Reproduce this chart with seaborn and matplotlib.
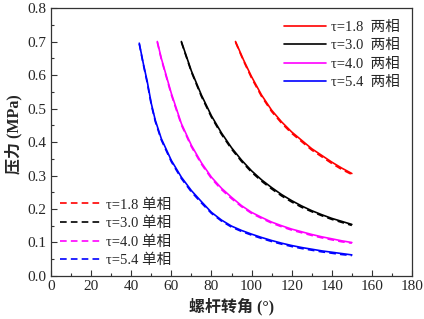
import matplotlib
matplotlib.use('Agg')
import matplotlib.pyplot as plt
import pandas as pd
import seaborn as sns
from matplotlib.ticker import MultipleLocator

# screw rotation angle (deg) and pressure (MPa)
ANGLE_18 = [92, 96, 100, 105, 110, 115, 120, 125, 130, 135, 140, 145, 150]
TWO_18 = [0.700, 0.645, 0.595, 0.540, 0.495, 0.460, 0.430, 0.405, 0.380, 0.360, 0.340, 0.322, 0.306]
ONE_18 = [0.698, 0.642, 0.591, 0.536, 0.491, 0.456, 0.426, 0.401, 0.376, 0.356, 0.336, 0.318, 0.303]

ANGLE_30 = [65, 70, 75, 80, 85, 90, 95, 100, 105, 110, 115, 120, 125, 130, 135, 140, 145, 150]
TWO_30 = [0.700, 0.612, 0.540, 0.478, 0.427, 0.383, 0.346, 0.314, 0.287, 0.264, 0.243, 0.225,
          0.209, 0.195, 0.183, 0.172, 0.163, 0.154]
ONE_30 = [0.698, 0.609, 0.536, 0.474, 0.423, 0.379, 0.342, 0.310, 0.283, 0.260, 0.239, 0.221,
          0.205, 0.192, 0.180, 0.169, 0.160, 0.151]

ANGLE_40 = [53, 55, 60, 65, 70, 75, 80, 85, 90, 95, 100, 105, 110, 115, 120, 125, 130, 135, 140, 145, 150]
TWO_40 = [0.700, 0.650, 0.545, 0.455, 0.390, 0.338, 0.295, 0.262, 0.235, 0.210, 0.190, 0.175,
          0.161, 0.150, 0.140, 0.132, 0.124, 0.117, 0.111, 0.105, 0.100]
ONE_40 = [0.698, 0.647, 0.541, 0.451, 0.386, 0.334, 0.291, 0.258, 0.231, 0.207, 0.187, 0.172,
          0.158, 0.147, 0.137, 0.129, 0.121, 0.114, 0.108, 0.102, 0.098]

ANGLE_54 = [44, 46, 48, 50, 52, 55, 60, 65, 70, 75, 80, 85, 90, 95, 100, 105, 110, 115, 120,
            125, 130, 135, 140, 145, 150]
TWO_54 = [0.695, 0.635, 0.580, 0.515, 0.465, 0.410, 0.345, 0.295, 0.255, 0.222, 0.190, 0.167,
          0.149, 0.136, 0.125, 0.115, 0.106, 0.098, 0.091, 0.085, 0.080, 0.075, 0.071, 0.067, 0.063]
ONE_54 = [0.693, 0.632, 0.576, 0.511, 0.461, 0.406, 0.341, 0.291, 0.251, 0.218, 0.187, 0.164,
          0.146, 0.133, 0.122, 0.112, 0.103, 0.095, 0.088, 0.082, 0.077, 0.072, 0.068, 0.064, 0.061]

TAUS = ['1.8', '3.0', '4.0', '5.4']
COLORS = ['#ff0000', '#000000', '#ff00ff', '#0000ff']


def build_frame():
    rows = []
    series = [(ANGLE_18, TWO_18, ONE_18), (ANGLE_30, TWO_30, ONE_30),
              (ANGLE_40, TWO_40, ONE_40), (ANGLE_54, TWO_54, ONE_54)]
    for tau, (ang, two, one) in zip(TAUS, series):
        for a, p in zip(ang, two):
            rows.append({'angle': a, 'p': p, 'tau': tau, 'phase': 'two'})
        for a, p in zip(ang, one):
            rows.append({'angle': a, 'p': p, 'tau': tau, 'phase': 'one'})
    return pd.DataFrame(rows)


def main():
    sns.set_style('ticks')
    plt.rcParams['font.family'] = ['Liberation Serif', 'Noto Sans CJK SC']
    plt.rcParams['axes.unicode_minus'] = False

    df = build_frame()
    fig = plt.figure(figsize=(4.24, 3.19), dpi=100)
    ax = fig.add_axes([0.1203, 0.1348, 0.8514, 0.8401])

    palette = dict(zip(TAUS, COLORS))
    one = df[df['phase'] == 'one']
    two = df[df['phase'] == 'two']
    sns.lineplot(data=one, x='angle', y='p', hue='tau', palette=palette,
                 linestyle=(0, (4, 2.5)), linewidth=1.2, ax=ax, legend=False, sort=True)
    sns.lineplot(data=two, x='angle', y='p', hue='tau', palette=palette,
                 linewidth=1.2, ax=ax, legend=False, sort=True)

    lines = ax.get_lines()
    dashed = lines[:4]
    solid = lines[4:8]

    leg1 = ax.legend(solid, [f'τ={t}  两相' for t in TAUS], loc='upper right',
                     bbox_to_anchor=(0.99, 0.985), frameon=False, fontsize=10.5,
                     handlelength=2.9, handletextpad=0.3, labelspacing=0.35,
                     borderaxespad=0.2)
    ax.add_artist(leg1)
    ax.legend(dashed, [f'τ={t} 单相' for t in TAUS], loc='lower left',
              bbox_to_anchor=(0.0, 0.0), frameon=False, fontsize=10.5,
              handlelength=2.9, handletextpad=0.3, labelspacing=0.35,
              borderaxespad=0.2)

    ax.set_xlim(0, 180)
    ax.set_ylim(0.0, 0.8)
    ax.xaxis.set_major_locator(MultipleLocator(20))
    ax.xaxis.set_minor_locator(MultipleLocator(10))
    ax.yaxis.set_major_locator(MultipleLocator(0.1))
    ax.yaxis.set_minor_locator(MultipleLocator(0.05))
    ax.yaxis.set_major_formatter(matplotlib.ticker.FormatStrFormatter('%.1f'))
    ax.tick_params(which='both', direction='in', top=False, right=False,
                   labelsize=11, color='#333333')
    ax.tick_params(which='major', length=4, width=0.8, pad=3)
    ax.tick_params(which='minor', length=2.5, width=0.8)
    for s in ax.spines.values():
        s.set_color('#333333')
        s.set_linewidth(0.9)

    ax.set_xlabel('螺杆转角 (°)', fontsize=11.5, fontweight='bold', labelpad=3)
    ax.set_ylabel('压力 (MPa)', fontsize=11.5, fontweight='bold', labelpad=4)
    ax.yaxis.set_label_coords(-0.08, 0.53)

    fig.savefig('out.png', dpi=100)
    plt.close(fig)


if __name__ == '__main__':
    main()
